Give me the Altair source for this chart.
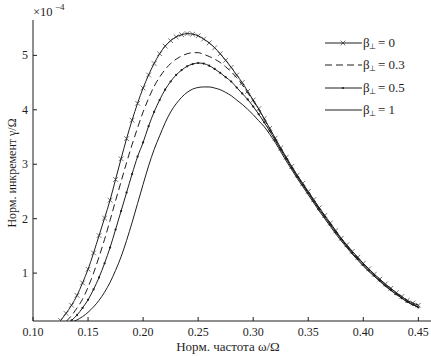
import altair as alt
import pandas as pd

# ---------------- data ----------------
omega = [0.125, 0.130, 0.135, 0.140, 0.145, 0.150, 0.155, 0.160, 0.165, 0.170,
         0.175, 0.180, 0.185, 0.190, 0.195, 0.200, 0.205, 0.210, 0.215, 0.220,
         0.225, 0.230, 0.235, 0.240, 0.245, 0.250, 0.255, 0.260, 0.265, 0.270,
         0.275, 0.280, 0.285, 0.290, 0.295, 0.300, 0.305, 0.310, 0.315, 0.320,
         0.325, 0.330, 0.335, 0.340, 0.345, 0.350, 0.355, 0.360, 0.365, 0.370,
         0.375, 0.380, 0.385, 0.390, 0.395, 0.400, 0.405, 0.410, 0.415, 0.420,
         0.425, 0.430, 0.435, 0.440, 0.445, 0.450]

# growth rate in units of 1e-4
gamma_b0 = [0.13, 0.26, 0.41, 0.59, 0.82, 1.07, 1.37, 1.69, 2.01, 2.34,
            2.72, 3.10, 3.47, 3.81, 4.12, 4.40, 4.64, 4.85, 5.03, 5.17,
            5.27, 5.34, 5.38, 5.40, 5.39, 5.36, 5.30, 5.23, 5.14, 5.03,
            4.91, 4.78, 4.64, 4.50, 4.34, 4.18, 4.02, 3.84, 3.66, 3.48,
            3.30, 3.13, 2.96, 2.80, 2.65, 2.50, 2.35, 2.20, 2.06, 1.92,
            1.78, 1.64, 1.52, 1.40, 1.29, 1.18, 1.08, 0.98, 0.89, 0.80,
            0.72, 0.64, 0.57, 0.50, 0.45, 0.41]

gamma_b03 = [None, 0.11, 0.22, 0.36, 0.52, 0.74, 1.00, 1.30, 1.62, 1.97,
             2.33, 2.68, 3.03, 3.36, 3.67, 3.96, 4.21, 4.43, 4.60, 4.74,
             4.85, 4.93, 4.99, 5.03, 5.05, 5.05, 5.02, 4.98, 4.93, 4.87,
             4.79, 4.70, 4.59, 4.46, 4.31, 4.16, 4.00, 3.83, 3.65, 3.47,
             3.29, 3.12, 2.95, 2.79, 2.64, 2.49, 2.34, 2.19, 2.05, 1.91,
             1.77, 1.63, 1.51, 1.39, 1.28, 1.17, 1.07, 0.97, 0.88, 0.79,
             0.71, 0.63, 0.56, 0.49, 0.43, 0.38]

gamma_b05 = [None, None, 0.13, 0.23, 0.36, 0.51, 0.70, 0.92, 1.18, 1.47,
             1.80, 2.14, 2.48, 2.82, 3.14, 3.40, 3.70, 3.96, 4.18, 4.37,
             4.52, 4.64, 4.73, 4.80, 4.84, 4.86, 4.85, 4.81, 4.75, 4.68,
             4.60, 4.52, 4.41, 4.30, 4.19, 4.06, 3.92, 3.77, 3.61, 3.44,
             3.27, 3.10, 2.93, 2.77, 2.62, 2.47, 2.32, 2.17, 2.03, 1.89,
             1.75, 1.62, 1.49, 1.37, 1.26, 1.15, 1.05, 0.95, 0.86, 0.77,
             0.69, 0.61, 0.54, 0.47, 0.42, 0.37]

gamma_b1 = [None, None, 0.10, 0.14, 0.20, 0.28, 0.38, 0.50, 0.65, 0.83,
            1.05, 1.30, 1.60, 1.93, 2.28, 2.63, 2.97, 3.27, 3.52, 3.76,
            3.96, 4.11, 4.23, 4.32, 4.38, 4.41, 4.42, 4.42, 4.40, 4.37,
            4.32, 4.26, 4.18, 4.10, 4.01, 3.91, 3.80, 3.69, 3.55, 3.40,
            3.23, 3.06, 2.90, 2.74, 2.59, 2.44, 2.29, 2.14, 2.00, 1.86,
            1.72, 1.59, 1.47, 1.35, 1.24, 1.13, 1.03, 0.94, 0.85, 0.76,
            0.68, 0.61, 0.54, 0.47, 0.42, 0.37]

x_ticks = [0.10, 0.15, 0.20, 0.25, 0.30, 0.35, 0.40, 0.45]
x_tick_labels = ["0.10", "0.15", "0.20", "0.25", "0.30", "0.35", "0.40", "0.45"]
y_ticks = [1, 2, 3, 4, 5]
y_tick_labels = ["1", "2", "3", "4", "5"]
series_names = ["b0", "b03", "b05", "b1"]
legend_values = ["0", "0.3", "0.5", "1"]
x_title = "Норм. частота ω/Ω"
y_title = "Норм. инкремент γ/Ω"

# ---------------- build table ----------------
rows = []
for name, vals in zip(series_names, [gamma_b0, gamma_b03, gamma_b05, gamma_b1]):
    for o, g in zip(omega, vals):
        if g is not None:
            rows.append({"omega": o, "gamma": g, "series": name})
df = pd.DataFrame(rows)

FONT = "Liberation Serif"
INK = "#1e1e1e"
W, H = 398, 301

xs = alt.Scale(domain=[0.10, 0.4615], nice=False, zero=False)
ys = alt.Scale(domain=[0.12, 5.65], nice=False, zero=False)

base = alt.Chart(df)
XNA = alt.X("omega:Q", scale=xs, axis=None)
YNA = alt.Y("gamma:Q", scale=ys, axis=None)


def line_layer(name, dash=None):
    kw = {}
    if dash is not None:
        kw["strokeDash"] = dash
    return base.transform_filter(alt.datum.series == name).mark_line(
        color=INK, strokeWidth=1.0, interpolate="monotone", clip=True, **kw
    ).encode(x=XNA, y=YNA)


l0 = line_layer("b0")
l03 = line_layer("b03", dash=[7, 4])
l05 = line_layer("b05")
l1 = line_layer("b1")

XSHAPE = "M-1,-1L1,1M-1,1L1,-1"

m0 = base.transform_filter(alt.datum.series == "b0").mark_point(
    shape=XSHAPE, filled=False, size=22, color=INK, strokeWidth=0.9, clip=True
).encode(x=XNA, y=YNA)

m05 = base.transform_filter(alt.datum.series == "b05").mark_point(
    shape="circle", filled=True, size=5, color=INK, opacity=1, clip=True
).encode(x=XNA, y=YNA)

# ---------------- hand-drawn axes ----------------
one = pd.DataFrame({"a": [0]})
xdf = pd.DataFrame({"t": x_ticks, "lab": x_tick_labels})
ydf = pd.DataFrame({"t": y_ticks, "lab": y_tick_labels})

x_dom = alt.Chart(one).mark_rule(color=INK, strokeWidth=1).encode(
    x=alt.value(0), x2=alt.value(W), y=alt.value(H))
y_dom = alt.Chart(one).mark_rule(color=INK, strokeWidth=1).encode(
    x=alt.value(0), y=alt.value(0), y2=alt.value(H))

xt = alt.Chart(xdf).mark_rule(color=INK, strokeWidth=1).encode(
    x=alt.X("t:Q", scale=xs, axis=None), y=alt.value(H), y2=alt.value(H - 4))
yt = alt.Chart(ydf).mark_rule(color=INK, strokeWidth=1).encode(
    y=alt.Y("t:Q", scale=ys, axis=None), x=alt.value(0), x2=alt.value(4))

xl = alt.Chart(xdf).mark_text(font=FONT, fontSize=12, align="center", baseline="top",
                              color=INK).encode(
    x=alt.X("t:Q", scale=xs, axis=None), y=alt.value(H + 6), text="lab:N")
yl = alt.Chart(ydf).mark_text(font=FONT, fontSize=12, align="right", baseline="middle",
                              color=INK).encode(
    y=alt.Y("t:Q", scale=ys, axis=None), x=alt.value(-5), text="lab:N")

xtitle = alt.Chart(one).mark_text(font=FONT, fontSize=13, align="center", baseline="middle",
                                  color=INK).encode(
    x=alt.value(195), y=alt.value(H + 26), text=alt.value(x_title))
ytitle = alt.Chart(one).mark_text(font=FONT, fontSize=12, align="center", baseline="middle",
                                  angle=270, color=INK).encode(
    x=alt.value(-21), y=alt.value(153), text=alt.value(y_title))

# exponent label
exp1 = alt.Chart(one).mark_text(font=FONT, fontSize=12.5, align="left", baseline="alphabetic",
                                color=INK).encode(x=alt.value(0), y=alt.value(-4), text=alt.value("×10"))
exp2 = alt.Chart(one).mark_text(font=FONT, fontSize=9, align="left", baseline="alphabetic",
                                color=INK).encode(x=alt.value(22), y=alt.value(-10), text=alt.value("−4"))

# ---------------- custom legend ----------------
leg_layers = []
row_y = [23, 45, 68, 90]
for i, val in enumerate(legend_values):
    yv = row_y[i]
    rk = {"strokeDash": [7, 4]} if i == 1 else {}
    leg_layers.append(alt.Chart(one).mark_rule(color=INK, strokeWidth=1, **rk).encode(
        x=alt.value(292), x2=alt.value(329), y=alt.value(yv)))
    leg_layers.append(alt.Chart(one).mark_text(font=FONT, fontSize=13, align="left",
                                               baseline="middle", color=INK).encode(
        x=alt.value(330), y=alt.value(yv), text=alt.value("β")))
    leg_layers.append(alt.Chart(one).mark_text(font=FONT, fontSize=8, align="left",
                                               baseline="middle", color=INK).encode(
        x=alt.value(336), y=alt.value(yv + 4), text=alt.value("⊥")))
    leg_layers.append(alt.Chart(one).mark_text(font=FONT, fontSize=13, align="left",
                                               baseline="middle", color=INK).encode(
        x=alt.value(345), y=alt.value(yv), text=alt.value("= " + val)))
leg_layers.append(alt.Chart(one).mark_point(shape=XSHAPE, filled=False, size=22, color=INK,
                                            strokeWidth=0.9).encode(
    x=alt.value(310), y=alt.value(row_y[0])))
leg_layers.append(alt.Chart(one).mark_point(shape="circle", filled=True, size=5, color=INK,
                                            opacity=1).encode(
    x=alt.value(310), y=alt.value(row_y[2])))

chart = alt.layer(
    l0, l03, l05, l1, m0, m05,
    x_dom, y_dom, xt, yt, xl, yl, xtitle, ytitle, exp1, exp2, *leg_layers
).properties(
    width=W, height=H,
    padding={"left": 33, "top": 20, "right": 0, "bottom": 35},
    autosize=alt.AutoSizeParams(type="none"),
    background="white",
).configure_view(stroke=None)

chart.save("out.html", embed_options={"renderer": "svg", "actions": False})
